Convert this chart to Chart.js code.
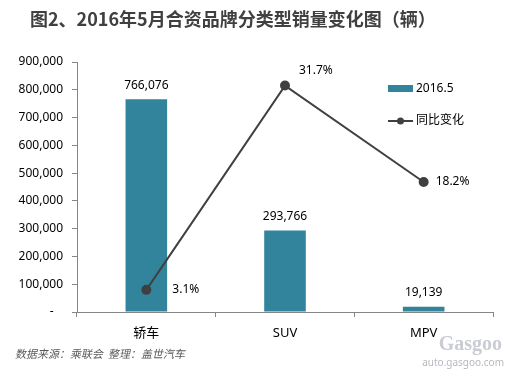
<!DOCTYPE html>
<html>
<head>
<meta charset="utf-8">
<script src="https://cdn.jsdelivr.net/npm/chart.js@4/dist/chart.umd.min.js"></script>
<style>
html,body{margin:0;padding:0;background:#fff;}
#wrap{width:508px;height:373px;position:relative;}
</style>
</head>
<body>
<div id="wrap"><canvas id="chart" width="508" height="373"></canvas></div>
<script>
// data
const categories = ["轿车", "SUV", "MPV"];
const sales2016 = [766076, 293766, 19139];
const yoyChange = [3.1, 31.7, 18.2];
const yTicks = [0, 100000, 200000, 300000, 400000, 500000, 600000, 700000, 800000, 900000];

const titleText = "图2、2016年5月合资品牌分类型销量变化图（辆）";
const sourceText = "数据来源：乘联会  整理：盖世汽车";

const FONT = "'Noto Sans','Noto Sans CJK SC',sans-serif";
const barColor = "#31849b";
const lineColor = "#404040";

function fmt(v){
return v.toLocaleString("en-US");
}

// titles, legend, value labels and footer
const decor = {
id:"decor",
afterDatasetsDraw(chart){
const ctx = chart.ctx;
ctx.save();

// title
ctx.fillStyle = "#404040";
ctx.font = "bold 18px 'Noto Sans CJK SC',sans-serif";
ctx.textAlign = "left";
ctx.textBaseline = "middle";
ctx.fillText(titleText, 30, 19);

// bar value labels
ctx.font = "12px " + FONT;
ctx.fillStyle = "#000";
ctx.textAlign = "center";
ctx.textBaseline = "bottom";
chart.getDatasetMeta(0).data.forEach((bar,i)=>{
ctx.fillText(fmt(sales2016[i]), bar.x, bar.y - 8);
});

// line value labels
const offs = [[26,0],[14,-15],[12,0]];
ctx.textAlign = "left";
ctx.textBaseline = "middle";
chart.getDatasetMeta(1).data.forEach((pt,i)=>{
ctx.fillText(yoyChange[i].toFixed(1) + "%", pt.x + offs[i][0], pt.y + offs[i][1]);
});

// legend
ctx.fillStyle = barColor;
ctx.fillRect(388, 85, 25, 7);
ctx.fillStyle = "#000";
ctx.font = "12px " + FONT;
ctx.fillText(chart.data.datasets[0].label, 416, 89);
ctx.strokeStyle = lineColor;
ctx.lineWidth = 2;
ctx.beginPath();
ctx.moveTo(388, 121);
ctx.lineTo(413, 121);
ctx.stroke();
ctx.fillStyle = lineColor;
ctx.beginPath();
ctx.arc(400.5, 121, 3.5, 0, Math.PI*2);
ctx.fill();
ctx.fillStyle = "#000";
ctx.fillText(chart.data.datasets[1].label, 416, 121);

// footer (fake italic with a skew, the CJK font has no italic face)
ctx.save();
ctx.fillStyle = "#595959";
ctx.font = "11px 'Noto Sans CJK SC',sans-serif";
ctx.translate(16, 354);
ctx.transform(1, 0, -0.22, 1, 0, 0);
ctx.fillText(sourceText, 0, 0);
ctx.restore();

// watermark
ctx.textAlign = "right";
ctx.fillStyle = "#c9ccd2";
ctx.font = "bold 20px 'Liberation Serif',serif";
ctx.fillText("Gasgoo", 502, 345);
ctx.font = "10px " + FONT;
ctx.fillStyle = "#b5b9c0";
ctx.fillText("auto.gasgoo.com", 504, 363);

ctx.restore();
}
};

new Chart(document.getElementById("chart"),{
type:"bar",
data:{
labels:categories,
datasets:[
{
label:"2016.5",
data:sales2016,
backgroundColor:barColor,
barPercentage:0.3,
categoryPercentage:1,
yAxisID:"y",
order:2
},
{
type:"line",
label:"同比变化",
data:yoyChange,
borderColor:lineColor,
backgroundColor:lineColor,
borderWidth:2,
pointRadius:4,
pointHoverRadius:4,
tension:0,
yAxisID:"y1",
order:1
}
]
},
options:{
responsive:false,
animation:false,
layout:{padding:{top:62,right:15,bottom:21,left:0}},
plugins:{
legend:{display:false},
tooltip:{enabled:false}
},
scales:{
x:{
grid:{drawOnChartArea:false,drawTicks:true,tickLength:5,color:"#868686"},
border:{color:"#868686"},
ticks:{color:"#000",font:{family:FONT,size:13},padding:8},
afterFit(s){s.height = 40;}
},
y:{
min:0,
max:900000,
afterBuildTicks(s){s.ticks = yTicks.map(v=>({value:v}));},
grid:{drawOnChartArea:false,drawTicks:true,tickLength:5,color:"#868686"},
border:{color:"#868686"},
ticks:{
color:"#000",
font:{family:FONT,size:12},
padding:9,
callback:(v)=> v===0 ? "-   " : fmt(v)
},
afterFit(s){s.width = 77;}
},
y1:{
display:false,
min:0,
max:35
}
}
},
plugins:[decor]
});
</script>
</body>
</html>
